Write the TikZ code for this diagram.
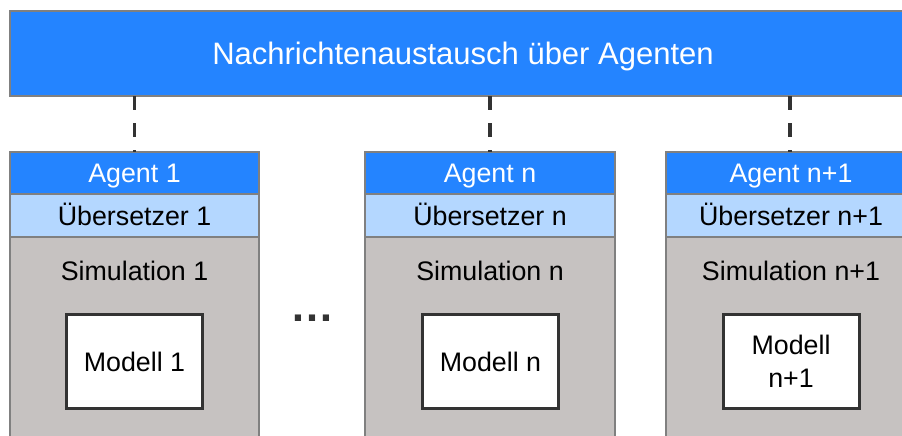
\documentclass[tikz,border=0pt]{standalone}
\usepackage{fontspec}
\setmainfont{Liberation Sans}
\definecolor{topblue}{RGB}{36,132,255}
\definecolor{lightblue}{RGB}{180,215,255}
\definecolor{simgray}{RGB}{198,194,193}
\definecolor{edgegray}{RGB}{128,128,128}
\definecolor{darkline}{RGB}{51,51,51}
\begin{document}
\begin{tikzpicture}[x=1pt,y=-1pt,
  every node/.style={inner sep=0pt, outer sep=0pt},
  barbox/.style={rectangle, fill=topblue, draw=edgegray, line width=1.2pt, text=white,
     font=\fontsize{31}{36}\selectfont, text height=22.2pt, text depth=0pt},
  agentbox/.style={rectangle, fill=topblue, draw=edgegray, line width=1.2pt, text=white,
     minimum height=42pt, font=\fontsize{26.8}{30}\selectfont, text height=19.2pt, text depth=0pt},
  transbox/.style={rectangle, fill=lightblue, draw=edgegray, line width=1.2pt, text=black,
     minimum height=43pt, font=\fontsize{26.8}{30}\selectfont, text height=19.2pt, text depth=0pt},
  simbox/.style={rectangle, fill=simgray, draw=edgegray, line width=1.2pt, minimum height=213pt},
  simlabel/.style={text=black, font=\fontsize{26.8}{30}\selectfont},
  modelbox/.style={rectangle, fill=white, draw=darkline, line width=3pt, text=black,
     minimum width=136pt, minimum height=94pt, align=center,
     font=\fontsize{26.8}{33}\selectfont},
  link/.style={draw=darkline, line width=3.5pt, dash pattern=on 14pt off 13pt}
]
\useasboundingbox (0,0) rectangle (902,436);
\clip (0,0) rectangle (902,436);

% top bar
\node[barbox, minimum width=906pt, minimum height=85pt] (bar) at (463,53.5) {Nachrichtenaustausch über Agenten};

% column 1
\node[agentbox, minimum width=249pt] (a1) at (134.5,173) {Agent 1};
\node[transbox, minimum width=249pt] (t1) at (134.5,215.5) {Übersetzer 1};
\node[simbox, minimum width=249pt] (s1) at (134.5,343.5) {};
\node[simlabel] (sl1) at (134.5,271) {Simulation 1};
\node[modelbox] (m1) at (134.5,361.5) {Modell 1};

% column n
\node[agentbox, minimum width=250pt] (an) at (490,173) {Agent n};
\node[transbox, minimum width=250pt] (tn) at (490,215.5) {Übersetzer n};
\node[simbox, minimum width=250pt] (sn) at (490,343.5) {};
\node[simlabel] (sln) at (490,271) {Simulation n};
\node[modelbox] (mn) at (490.5,361.5) {Modell n};

% column n+1
\node[agentbox, minimum width=250pt] (ap) at (791,173) {Agent n+1};
\node[transbox, minimum width=250pt] (tp) at (791,215.5) {Übersetzer n+1};
\node[simbox, minimum width=250pt] (sp) at (791,343.5) {};
\node[simlabel] (slp) at (791,271) {Simulation n+1};
\node[modelbox] (mp) at (791,361.5) {Modell\\n+1};

% ellipsis
\node[text=darkline, font=\fontsize{44}{44}\selectfont\bfseries] (dots) at (312.5,318) {…};

% dashed links
\coordinate (b1) at (bar.south -| a1.north);
\coordinate (bn) at (bar.south -| an.north);
\coordinate (bp) at (790,96);
\draw[link] (b1) -- (a1.north);
\draw[link] (bn) -- (an.north);
\draw[link] (bp) -- (ap.north -| bp);
\end{tikzpicture}
\end{document}
